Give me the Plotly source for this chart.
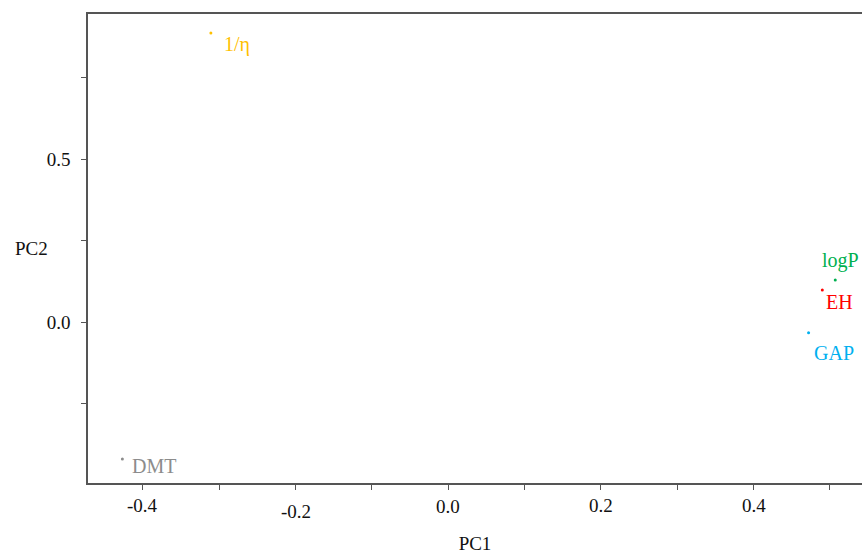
import plotly.graph_objects as go

# PCA loadings of the descriptors
names = ["1/η", "logP", "EH", "GAP", "DMT"]
pc1 = [-0.311, 0.507, 0.490, 0.472, -0.427]
pc2 = [0.888, 0.130, 0.099, -0.032, -0.419]
colors = ["#FFC000", "#00B050", "#FF0000", "#00B0F0", "#8C8C8C"]
# label offsets from each point (px) and horizontal anchor
label_dx = [11, 5, 2, 25, 8]
label_dy = [-12, 19, -12, -20, -7]
label_anchor = ["left", "center", "left", "center", "left"]

x_tick_vals = [-0.4, -0.2, 0.0, 0.2, 0.4]
x_tick_text = ["-0.4", "-0.2", "0.0", "0.2", "0.4"]
x_tick_drop = [0, 6, 1, 0, 0]
y_tick_vals = [-0.25, 0.0, 0.25, 0.5, 0.75]
y_tick_text = ["", "0.0", "", "0.5", ""]

FONT = "Liberation Serif"
AXIS = "#555555"
TXT = "#111111"

fig = go.Figure()
for n, x, y, c, dx, dy, a in zip(names, pc1, pc2, colors, label_dx, label_dy, label_anchor):
    fig.add_trace(go.Scatter(
        x=[x], y=[y], mode="markers", marker=dict(size=3, color=c),
        showlegend=False, hoverinfo="skip"))
    fig.add_annotation(x=x, y=y, text=n, showarrow=False, xanchor=a, yanchor="middle",
                       xshift=dx, yshift=dy,
                       font=dict(family=FONT, size=20, color=c))

# x tick labels placed individually
for v, t, d in zip(x_tick_vals, x_tick_text, x_tick_drop):
    fig.add_annotation(x=v, y=0, xref="x", yref="paper", text=t, showarrow=False,
                       yanchor="top", yshift=-10 - d,
                       font=dict(family=FONT, size=19, color=TXT))

# horizontal PC2 axis title
fig.add_annotation(x=-0.0724, y=0.5, xref="paper", yref="paper", text="PC2",
                   showarrow=False, xanchor="center", yanchor="middle",
                   font=dict(family=FONT, size=19, color=TXT))

fig.update_layout(
    width=862, height=554,
    margin=dict(l=88, r=0, t=14, b=71),
    plot_bgcolor="white", paper_bgcolor="white",
    font=dict(family=FONT, size=19, color=TXT),
    xaxis=dict(range=[-0.472, 0.542], dtick=0.1, tick0=0, showticklabels=False,
               ticks="outside", ticklen=5, tickcolor=AXIS, tickwidth=1,
               showline=True, linecolor=AXIS, linewidth=1.5, mirror=True,
               showgrid=False, zeroline=False,
               title=dict(text="PC1", standoff=50, font=dict(family=FONT, size=19))),
    yaxis=dict(range=[-0.493, 0.946], tickvals=y_tick_vals, ticktext=y_tick_text,
               ticks="outside", ticklen=5, tickcolor=AXIS, tickwidth=1,
               ticklabelstandoff=7,
               showline=True, linecolor=AXIS, linewidth=1.5, mirror=False,
               showgrid=False, zeroline=False),
)
fig.write_html("out.html")
